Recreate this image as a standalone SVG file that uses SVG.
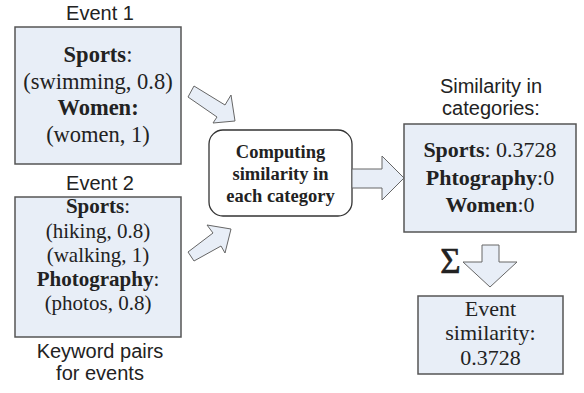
<svg xmlns="http://www.w3.org/2000/svg" width="584" height="393" viewBox="0 0 584 393">
<style>
.box{fill:#e8eef7;stroke:#555;stroke-width:1.5}
.rbox{fill:#fff;stroke:#333;stroke-width:1.3}
.arr{fill:#e8eef7;stroke:#666;stroke-width:1}
.lbl{font-family:"Liberation Sans",Arial,sans-serif;font-size:20px;fill:#222;text-anchor:middle}
.t{font-family:"Liberation Serif","Times New Roman",serif;fill:#222;text-anchor:middle}
.b{font-weight:bold}
</style>
<rect width="584" height="393" fill="#fff"/>
<g id="event1">
<text class="lbl" x="100" y="20">Event 1</text>
<rect class="box" x="15" y="27" width="166" height="137"/>
<text class="t" font-size="22.5" x="98" y="62"><tspan class="b">Sports</tspan>:</text>
<text class="t" font-size="22.5" x="98" y="89">(swimming, 0.8)</text>
<text class="t b" font-size="22.5" x="98" y="115">Women:</text>
<text class="t" font-size="22.5" x="98" y="142">(women, 1)</text>
</g>
<g id="event2">
<text class="lbl" x="100" y="190">Event 2</text>
<rect class="box" x="15" y="197" width="166" height="140"/>
<text class="t" font-size="21" x="98" y="213"><tspan class="b">Sports</tspan>:</text>
<text class="t" font-size="21" x="98" y="238">(hiking, 0.8)</text>
<text class="t" font-size="21" x="98" y="262">(walking, 1)</text>
<text class="t" font-size="21" x="98" y="286"><tspan class="b">Photography</tspan>:</text>
<text class="t" font-size="21" x="98" y="310">(photos, 0.8)</text>
<text class="lbl" x="100" y="358">Keyword pairs</text>
<text class="lbl" x="100" y="380">for events</text>
</g>
<g id="compute">
<rect class="rbox" x="209" y="130" width="143" height="86" rx="14" ry="14"/>
<text class="t b" font-size="18.5" x="280.5" y="158">Computing</text>
<text class="t b" font-size="18.5" x="280.5" y="180">similarity in</text>
<text class="t b" font-size="18.5" x="280.5" y="202">each category</text>
</g>
<g id="categories">
<text class="lbl" x="491" y="93">Similarity in</text>
<text class="lbl" x="491" y="115">categories:</text>
<rect class="box" x="404" y="124" width="172" height="108"/>
<text class="t" font-size="22" x="490" y="157"><tspan class="b">Sports</tspan>: 0.3728</text>
<text class="t" font-size="22" x="490" y="185"><tspan class="b">Phtography</tspan>:0</text>
<text class="t" font-size="22" x="490" y="212"><tspan class="b">Women</tspan>:0</text>
</g>
<g id="event-similarity">
<rect class="box" x="418" y="296" width="145" height="78"/>
<text class="t" font-size="22" x="490.5" y="316">Event</text>
<text class="t" font-size="22" x="490.5" y="340">similarity:</text>
<text class="t" font-size="22" x="490.5" y="365">0.3728</text>
</g>
<g id="connectors">
<polygon class="arr" points="194,86 225,105 231,95 235,121 213,123 217,117 188,97"/>
<polygon class="arr" points="188,252 213,233 207,225 231,229 225,253 221,246 194,261"/>
<polygon class="arr" points="352,169 382,169 382,156 404,178 382,200 382,188 352,188"/>
<polygon class="arr" points="482,245 499,245 499,262 517,262 490,287 463,262 482,262"/>
<text class="t" font-size="35" x="450.5" y="273" stroke="#222" stroke-width="0.6">Σ</text>
</g>
</svg>
